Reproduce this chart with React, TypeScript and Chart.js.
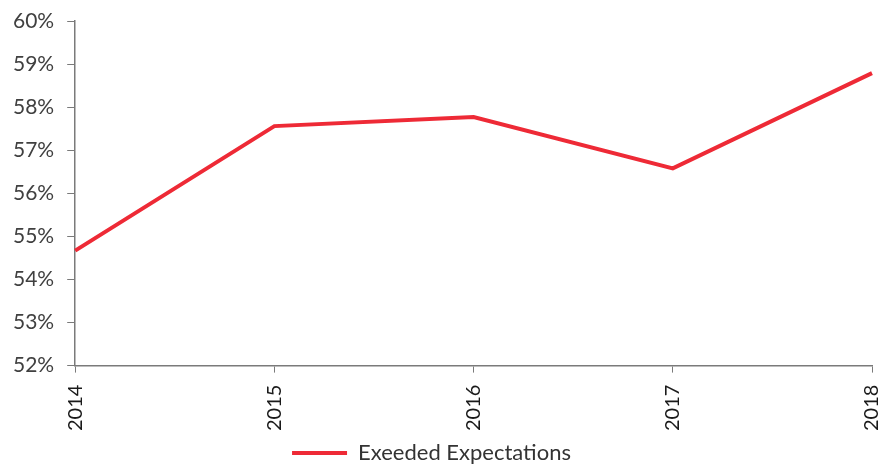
import React, { useEffect, useRef } from "react";
import { Chart, registerables } from "chart.js";

Chart.register(...registerables);

const years = ["2014", "2015", "2016", "2017", "2018"];
const exceeded = [54.67, 57.56, 57.77, 56.58, 58.79];
const seriesName = "Exeeded Expectations";

const shiftLegend = {
  id: "shiftLegend",
  afterLayout(chart: any) {
    const lg = chart.legend;
    if (lg) {
      lg.left -= 16;
      lg.right -= 16;
      lg.top -= 4;
      lg.bottom -= 4;
    }
  },
};

export default function App() {
  const ref = useRef<HTMLCanvasElement | null>(null);
  useEffect(() => {
    document.body.style.margin = "0";
    const ctx = ref.current!;
    const chart = new Chart(ctx, {
      type: "line",
      plugins: [shiftLegend],
      data: {
        labels: years,
        datasets: [
          {
            label: seriesName,
            data: exceeded,
            borderColor: "#EE2A36",
            backgroundColor: "#EE2A36",
            borderWidth: 4,
            pointRadius: 0,
            tension: 0,
            pointStyle: "line",
          },
        ],
      },
      options: {
        animation: false,
        responsive: false,
        maintainAspectRatio: false,
        layout: { padding: { top: 0, right: 0, left: 0, bottom: -14 } },
        plugins: {
          tooltip: { enabled: false },
          legend: {
            position: "bottom",
            labels: {
              usePointStyle: true,
              pointStyleWidth: 55,
              boxHeight: 4,
              color: "#333333",
              font: { family: "Lato", size: 22 },
              padding: 3,
            },
          },
        },
        scales: {
          x: {
            offset: false,
            afterFit: (scale: any) => {
              scale.paddingRight = 23;
            },
            grid: {
              drawOnChartArea: false,
              tickLength: 7,
              color: "#7a7a7a",
            },
            border: { color: "#7a7a7a", width: 1.5 },
            ticks: {
              maxRotation: 90,
              minRotation: 90,
              color: "#1a1a1a",
              font: { family: "Lato", size: 20 },
              padding: 12,
            },
          },
          y: {
            min: 52,
            max: 60,
            afterFit: (scale: any) => {
              scale.paddingTop = 21;
            },
            grid: {
              drawOnChartArea: false,
              tickLength: 8,
              color: "#7a7a7a",
            },
            border: { color: "#7a7a7a", width: 1.5 },
            ticks: {
              stepSize: 1,
              color: "#404040",
              font: { family: "Lato", size: 21 },
              padding: 13,
              callback: (v: any) => `${v}%`,
            },
          },
        },
      },
    });
    return () => chart.destroy();
  }, []);
  return (
    <div style={{ width: 895, height: 464 }}>
      <canvas ref={ref} width={895} height={464} />
    </div>
  );
}
